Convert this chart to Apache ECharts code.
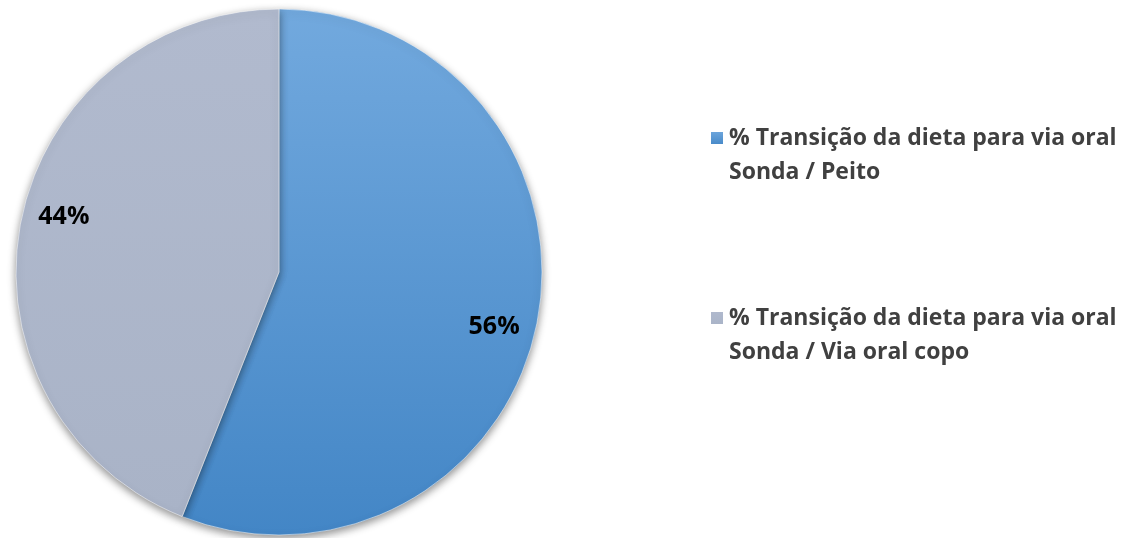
<!DOCTYPE html>
<html>
<head>
<meta charset="utf-8">
<script src="https://cdn.jsdelivr.net/npm/echarts@6/dist/echarts.min.js"></script>
<style>
  html, body { margin: 0; padding: 0; background: #ffffff; }
  #main { width: 1128px; height: 538px; }
</style>
</head>
<body>
<div id="main"></div>
<script>
// data
const categories = [
  '% Transição da dieta para via oral\nSonda / Peito',
  '% Transição da dieta para via oral\nSonda / Via oral copo'
];
const values = [56, 44];
const colors = [
  ['#72a9de', '#4386c6'],
  ['#b1bace', '#a9b3c7']
];

let element = document.getElementById('main');
let myChart = echarts.init(element);

const pieData = categories.map((name, i) => ({
  name: name,
  value: values[i],
  itemStyle: {
    color: new echarts.graphic.LinearGradient(0, 0, 0, 1, [
      { offset: 0, color: colors[i][0] },
      { offset: 1, color: colors[i][1] }
    ])
  }
}));

let option = {
  animation: false,
  legend: {
    orient: 'vertical',
    left: 709,
    top: 87,
    padding: 0,
    itemWidth: 14,
    itemHeight: 14,
    itemGap: 78,
    icon: 'rect',
    data: categories,
    // empty first line so the marker sits next to the first text line
    formatter: name => '\n' + name,
    textStyle: {
      fontFamily: 'Open Sans',
      fontWeight: 'bold',
      fontSize: 23,
      color: '#404040',
      lineHeight: 34
    }
  },
  series: [
    {
      type: 'pie',
      center: [279, 272],
      radius: 263,
      startAngle: 90,
      clockwise: true,
      silent: true,
      label: { show: false },
      labelLine: { show: false },
      itemStyle: {
        borderColor: '#ffffff',
        borderWidth: 0.5,
        shadowBlur: 8,
        shadowOffsetY: 3,
        shadowColor: 'rgba(0,0,0,0.45)'
      },
      data: pieData
    },
    {
      // label ring only
      type: 'pie',
      center: [279, 272],
      radius: [175, 263],
      startAngle: 86.5,
      clockwise: true,
      silent: true,
      legendHoverLink: false,
      itemStyle: { color: 'transparent' },
      label: {
        show: true,
        position: 'inside',
        formatter: '{c}%',
        fontFamily: 'Open Sans',
        fontWeight: 'bold',
        fontSize: 25,
        color: '#000000'
      },
      labelLine: { show: false },
      data: categories.map((name, i) => ({ name: name + ' ', value: values[i] }))
    }
  ]
};

option && myChart.setOption(option);
</script>
</body>
</html>
